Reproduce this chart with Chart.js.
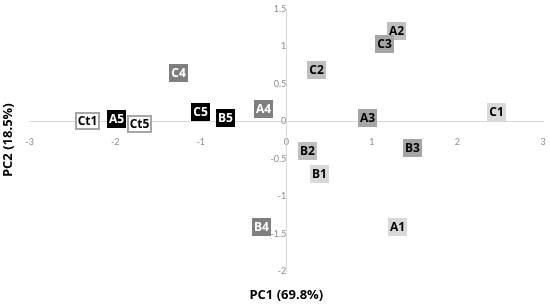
<!DOCTYPE html>
<html><head><meta charset="utf-8">
<script src="https://cdn.jsdelivr.net/npm/chart.js@4.4.1/dist/chart.umd.min.js"></script>
<style>html,body{margin:0;padding:0;background:#fff;}#wrap{width:550px;height:306px;position:relative;}</style>
</head><body><div id="wrap"><canvas id="c"></canvas></div>
<script>
const samples = ['A1','B1','C1','A2','B2','C2','A3','B3','C3','A4','B4','C4','A5','B5','C5','Ct1','Ct5'];
const pc1 = [1.30, 0.39, 2.46, 1.29, 0.25, 0.35, 0.95, 1.47, 1.15, -0.27, -0.29, -1.26, -1.99, -0.71, -1.00, -2.32, -1.72];
const pc2 = [-1.41, -0.70, 0.13, 1.21, -0.39, 0.69, 0.04, -0.35, 1.03, 0.17, -1.41, 0.64, 0.03, 0.05, 0.13, 0.00, -0.03];
const xTicks = [-3, -2, -1, 0, 1, 2, 3];
const yTicks = [-2, -1.5, -1, -0.5, 0, 0.5, 1, 1.5];
const xTitle = 'PC1 (69.8%)';
const yTitle = 'PC2 (18.5%)';

function styleFor(name) {
  if (name.startsWith('Ct')) return {fill: '#ffffff', stroke: '#a6a6a6', text: '#000000'};
  const lvl = name.slice(-1);
  const map = {
    '1': {fill: '#d9d9d9', text: '#000000'},
    '2': {fill: '#bfbfbf', text: '#000000'},
    '3': {fill: '#a5a5a5', text: '#000000'},
    '4': {fill: '#7f7f7f', text: '#ffffff'},
    '5': {fill: '#000000', text: '#ffffff'}
  };
  return map[lvl];
}

const boxLabels = {
  id: 'boxLabels',
  afterDatasetsDraw(chart) {
    const ctx = chart.ctx;
    const meta = chart.getDatasetMeta(0);
    ctx.save();
    ctx.font = 'bold 12px "Open Sans"';
    ctx.textAlign = 'center';
    ctx.textBaseline = 'middle';
    meta.data.forEach((pt, i) => {
      const name = samples[i];
      const st = styleFor(name);
      const h = 18;
      const w = Math.round(ctx.measureText(name).width + (st.stroke ? 5 : 4));
      const x = Math.round(pt.x - w / 2), y = Math.round(pt.y - h / 2);
      ctx.fillStyle = st.fill;
      ctx.fillRect(x, y, w, h);
      if (st.stroke) {
        ctx.strokeStyle = st.stroke;
        ctx.lineWidth = 2;
        ctx.strokeRect(x + 1, y + 1, w - 2, h - 2);
      }
      ctx.fillStyle = st.text;
      ctx.fillText(name, x + w / 2, y + h / 2 + 1);
    });
    ctx.restore();
  }
};

const noPad = s => { s.paddingTop = 0; s.paddingBottom = 0; s.paddingLeft = 0; s.paddingRight = 0; };

function make() {
  new Chart(document.getElementById('c'), {
    type: 'scatter',
    data: {
      datasets: [{
        data: samples.map((s, i) => ({x: pc1[i], y: pc2[i]})),
        pointRadius: 0,
        pointHoverRadius: 0
      }]
    },
    options: {
      responsive: true,
      maintainAspectRatio: false,
      animation: false,
      layout: {padding: {top: 9, right: 7, left: 0, bottom: 0}},
      plugins: {
        legend: {display: false},
        tooltip: {enabled: false},
        title: {
          display: true, text: yTitle, position: 'left', fullSize: false,
          color: '#000', font: {family: 'Open Sans', size: 13, weight: 'bold'},
          padding: {top: 0, bottom: 14}
        },
        subtitle: {
          display: true, text: xTitle, position: 'bottom', fullSize: false,
          color: '#000', font: {family: 'Open Sans', size: 13, weight: 'bold'},
          padding: {top: 16, bottom: 3}
        }
      },
      scales: {
        x: {
          type: 'linear', min: -3, max: 3,
          position: {y: 0},
          afterBuildTicks: s => { s.ticks = xTicks.map(v => ({value: v})); },
          afterFit: noPad,
          grid: {display: false},
          border: {display: true, color: '#d9d9d9', width: 1},
          ticks: {color: '#8c8c8c', font: {family: 'Lato', size: 9}, padding: 7, maxRotation: 0,
                  callback: v => String(v)}
        },
        y: {
          type: 'linear', min: -2, max: 1.5,
          position: {x: 0},
          afterBuildTicks: s => { s.ticks = yTicks.map(v => ({value: v})); },
          afterFit: noPad,
          grid: {display: false},
          border: {display: true, color: '#d9d9d9', width: 1},
          ticks: {color: '#8c8c8c', font: {family: 'Lato', size: 9}, padding: 9,
                  callback: v => String(v)}
        }
      }
    },
    plugins: [boxLabels]
  });
}
Promise.all([
  document.fonts.load('bold 12px "Open Sans"'),
  document.fonts.load('bold 13px "Open Sans"'),
  document.fonts.load('9px Lato')
]).then(make, make);
</script>
</body></html>
